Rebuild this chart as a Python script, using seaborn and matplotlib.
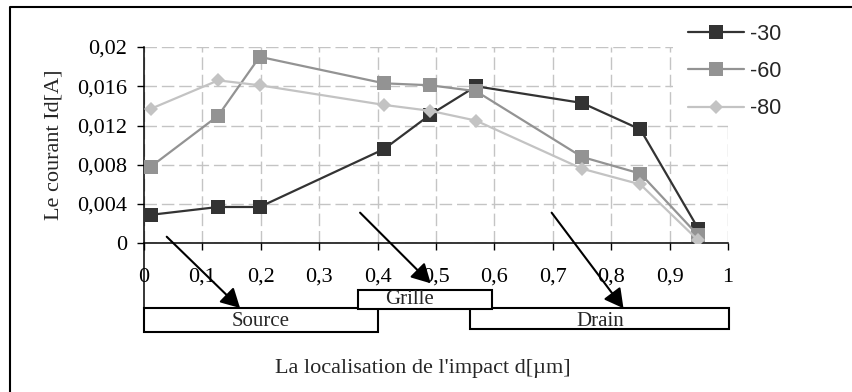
import matplotlib
matplotlib.use("Agg")
import matplotlib.pyplot as plt
from matplotlib.patches import Rectangle
from matplotlib.lines import Line2D
from matplotlib.font_manager import FontProperties
import numpy as np
import pandas as pd
import seaborn as sns

# Impact position along the device (µm) and drain current for each bias
positions = [0.0115, 0.127, 0.198, 0.411, 0.49, 0.5685, 0.75, 0.85, 0.949]
current_m30 = [0.0029, 0.0037, 0.0037, 0.0096, 0.0131, 0.0160, 0.0143, 0.0116, 0.0015]
current_m60 = [0.0078, 0.0130, 0.0190, 0.0163, 0.0161, 0.0155, 0.0088, 0.0071, 0.0008]
current_m80 = [0.0137, 0.0166, 0.0161, 0.0141, 0.0135, 0.0125, 0.0076, 0.0060, 0.0003]
series_labels = ["-30", "-60", "-80"]

x_ticks = [0, 0.1, 0.2, 0.3, 0.4, 0.5, 0.6, 0.7, 0.8, 0.9, 1]
x_tick_labels = ["0", "0,1", "0,2", "0,3", "0,4", "0,5", "0,6", "0,7", "0,8", "0,9", "1"]
y_ticks = [0, 0.004, 0.008, 0.012, 0.016, 0.02]
y_tick_labels = ["0", "0,004", "0,008", "0,012", "0,016", "0,02"]

# Device regions drawn under the axis: (name, x start, x end, y top, y bottom)
regions = [
    ("Source", 0.0, 0.400, -0.00662, -0.00899),
    ("Drain", 0.558, 1.002, -0.00662, -0.00878),
    ("Grille", 0.3656, 0.5954, -0.00471, -0.00669),
]
region_text = {"Source": (0.200, -0.00843), "Drain": (0.781, -0.00843), "Grille": (0.454, -0.00618)}
# Arrows pointing from the curve area to each region: (start, tip)
arrows = [
    ((0.0389, 0.00067), (0.1644, -0.00659)),
    ((0.370, 0.00312), (0.491, -0.00408)),
    ((0.698, 0.00312), (0.821, -0.00662)),
]

sns.set_style("white")
plt.rcParams["font.family"] = ["Liberation Serif", "DejaVu Serif"]

W, H = 853, 392
fig = plt.figure(figsize=(W / 100, H / 100), dpi=100)
ax = fig.add_axes([144 / W, 1 - 243.3 / H, 584 / W, 196.3 / H])

df = pd.DataFrame({
    "position": positions * 3,
    "current": current_m30 + current_m60 + current_m80,
    "series": np.repeat(series_labels, len(positions)),
})

styles = {
    "-30": dict(color="#333333", marker="s", markersize=9.6),
    "-60": dict(color="#939393", marker="s", markersize=9.6),
    "-80": dict(color="#c3c3c3", marker="D", markersize=7.2),
}
for name in series_labels:
    st = styles[name]
    sns.lineplot(
        data=df[df["series"] == name], x="position", y="current",
        color=st["color"], marker=st["marker"], markersize=st["markersize"],
        markeredgewidth=0, linewidth=1.6, label=name, ax=ax, zorder=3,
    )

ax.set_xlim(0, 1)
ax.set_ylim(0, 0.02)
ax.set_xticks(x_ticks)
ax.set_xticklabels(x_tick_labels, fontsize=16)
ax.set_yticks(y_ticks)
ax.set_yticklabels(y_tick_labels, fontsize=16)
ax.tick_params(axis="x", direction="out", length=5, width=1, pad=12.5, colors="black", bottom=True)
ax.tick_params(axis="y", direction="out", length=5, width=1, pad=7, colors="black", left=True)
ax.set_xlabel("")
ax.set_ylabel("")

ax.set_axisbelow(True)
ax.grid(True, color="#c4c4c4", linewidth=1, linestyle=(0, (9, 3.5)))
for side in ("top", "right"):
    ax.spines[side].set_visible(False)
for side in ("left", "bottom"):
    ax.spines[side].set_color("black")
    ax.spines[side].set_linewidth(1.1)
ax.spines["left"].set_bounds(-0.00899, 0.02)

# white area behind the legend
ax.add_patch(Rectangle((0.906, 0.615), 0.3, 0.6, transform=ax.transAxes,
                       facecolor="white", edgecolor="none", zorder=1, clip_on=False))

for name, x0, x1, ytop, ybot in regions:
    ax.add_patch(Rectangle((x0, ybot), x1 - x0, ytop - ybot, facecolor="white",
                           edgecolor="black", linewidth=1.5, clip_on=False, zorder=4))
    tx, ty = region_text[name]
    ax.text(tx, ty, name, ha="center", va="baseline", fontsize=15, zorder=5, clip_on=False)

for (sx, sy), (ex, ey) in arrows:
    ax.annotate("", xy=(ex, ey), xytext=(sx, sy), annotation_clip=False, zorder=6,
                arrowprops=dict(arrowstyle="-|>,head_length=0.55,head_width=0.3",
                                mutation_scale=21, color="black", lw=1.5,
                                shrinkA=0, shrinkB=0))

fig.text(58.3 / W, 1 - 145 / H, "Le courant Id[A]", rotation=90, ha="center",
         va="baseline", rotation_mode="anchor", fontsize=16)
fig.text(422.5 / W, 1 - 373.5 / H, "La localisation de l'impact d[µm]",
         ha="center", va="baseline", fontsize=16)

ax.legend(loc="upper left", bbox_to_anchor=(688 / W, 1 - 23.5 / H), bbox_transform=fig.transFigure,
          frameon=False, borderpad=0, borderaxespad=0, handlelength=2.6, handletextpad=0.3,
          labelspacing=0.76, prop=FontProperties(family="Liberation Sans", size=15.5))

# outer frame
fig.add_artist(Line2D([10 / W, 10 / W, 1], [0, 1 - 7 / H, 1 - 7 / H], transform=fig.transFigure,
                      color="black", linewidth=1.5))

fig.savefig("out.png", dpi=100)
